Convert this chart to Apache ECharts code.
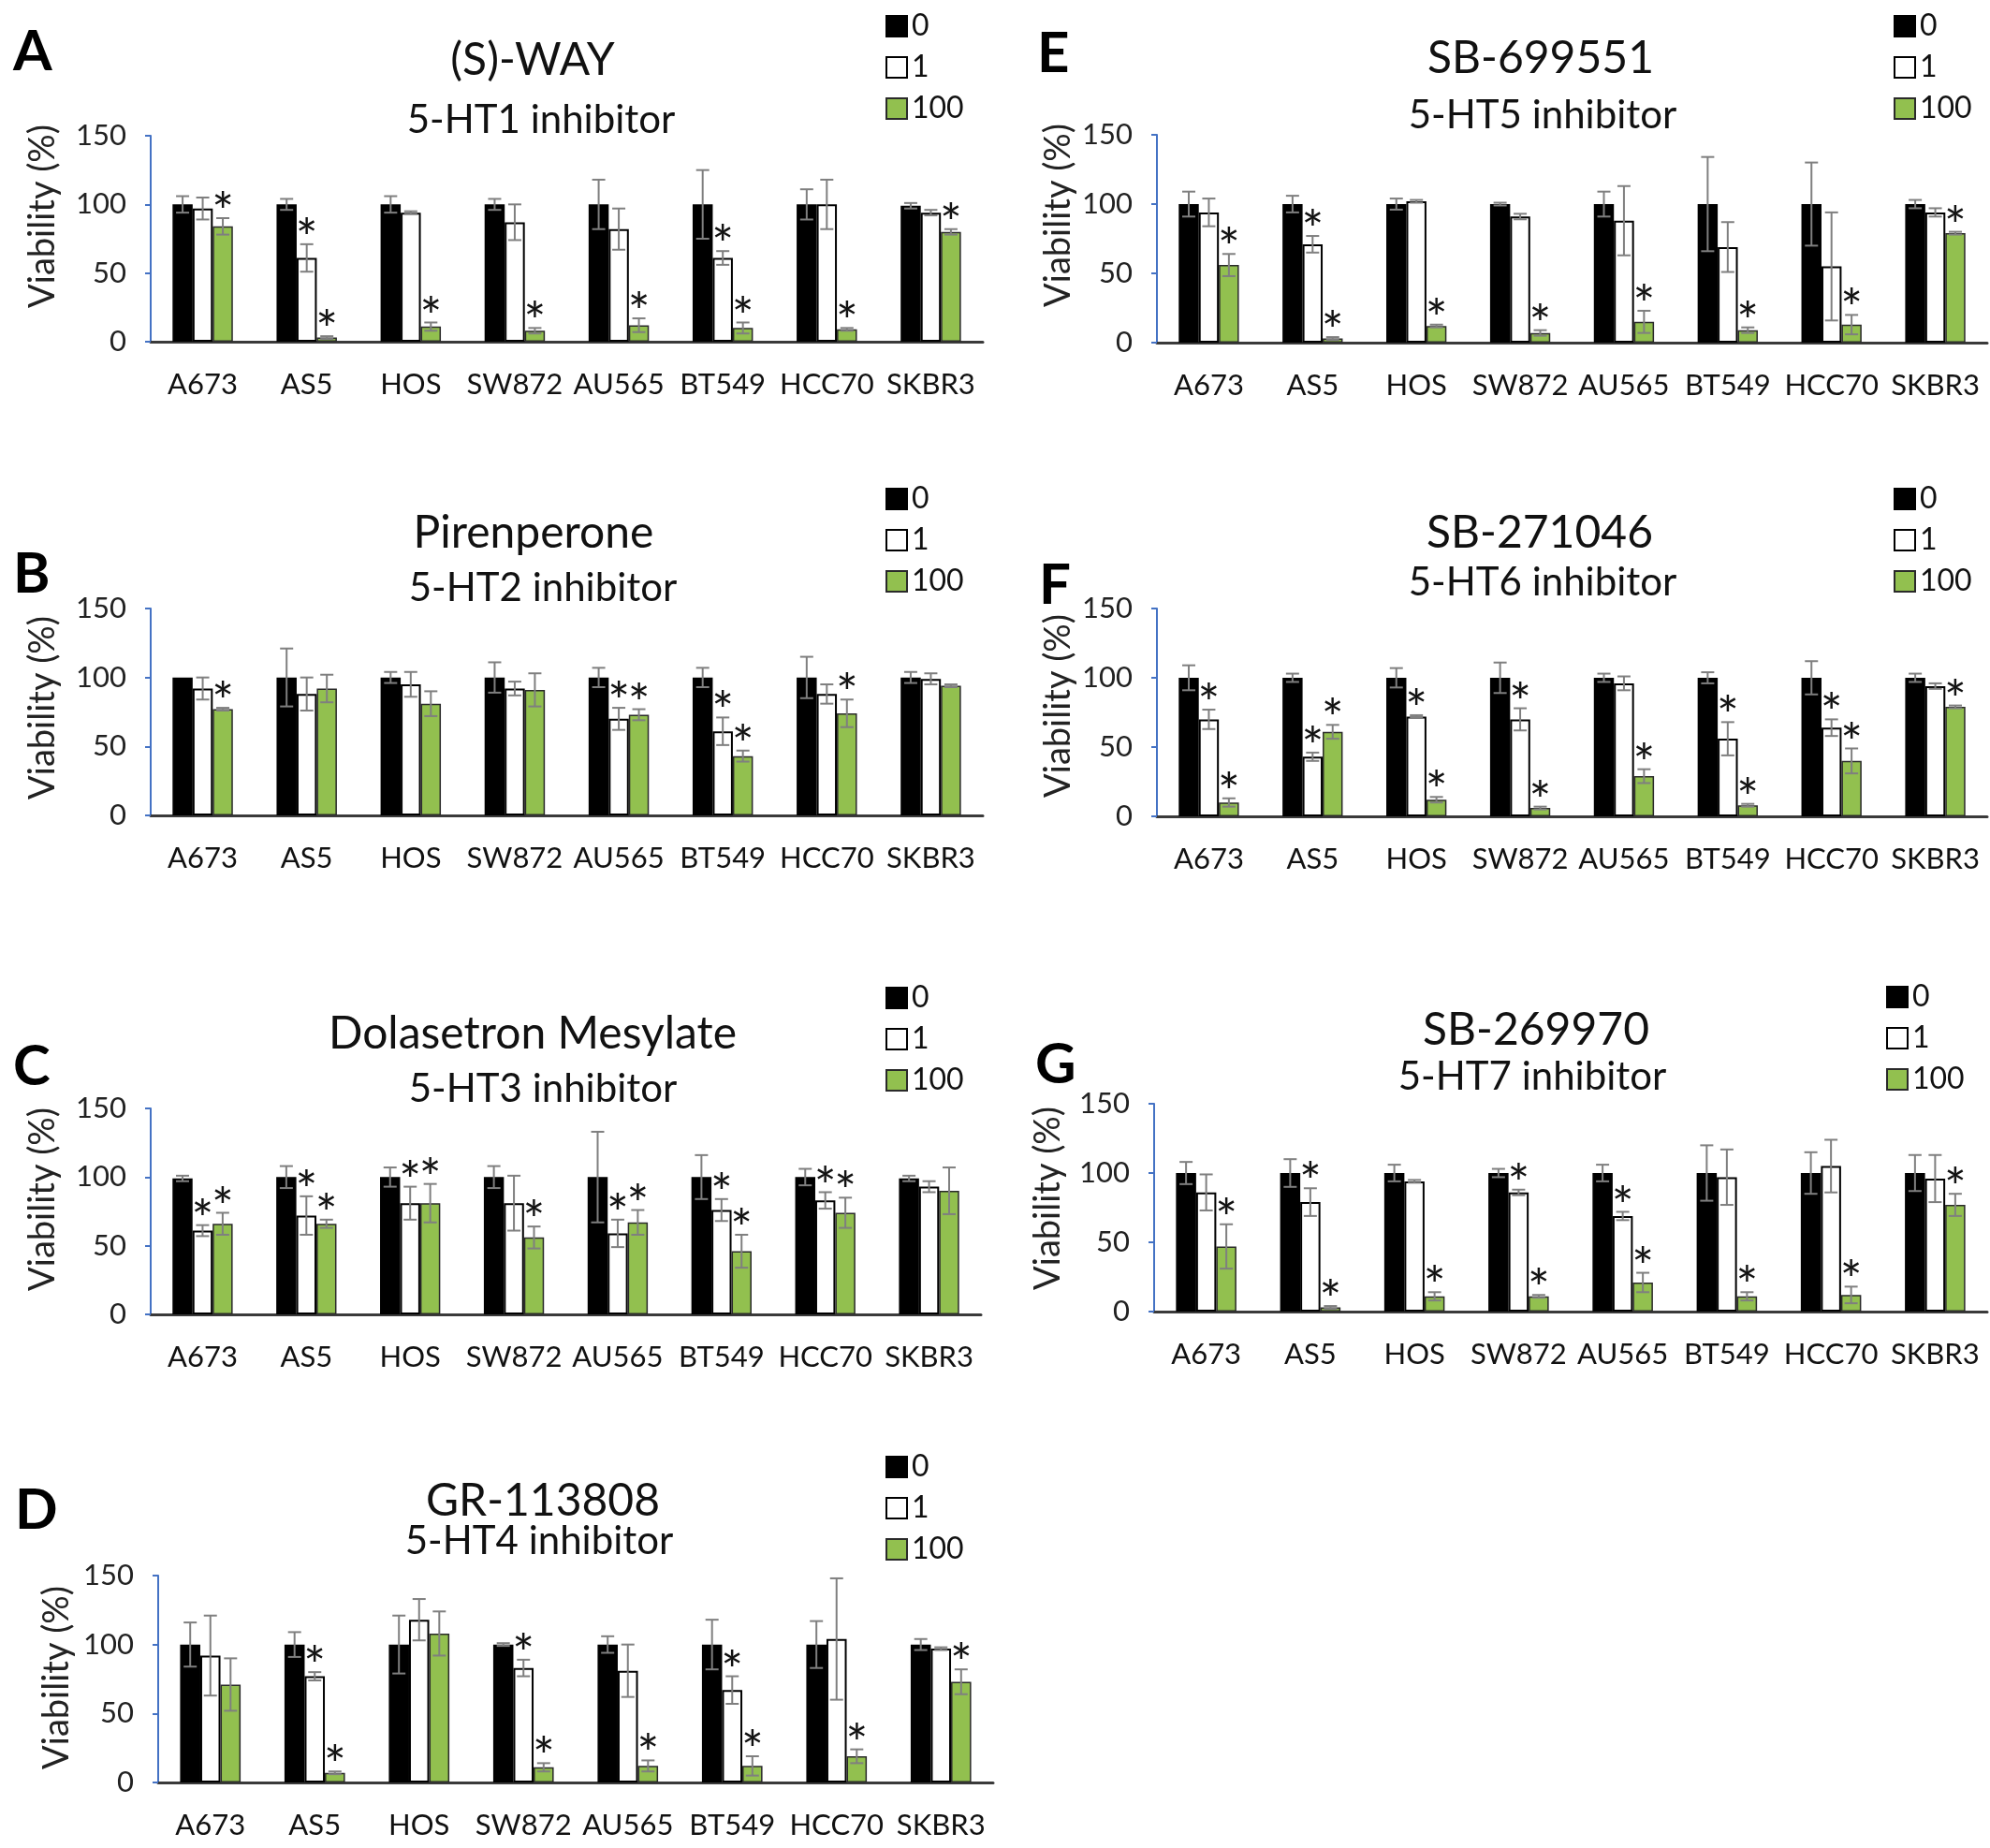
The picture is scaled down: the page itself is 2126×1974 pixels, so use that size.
<!DOCTYPE html>
<html>
<head>
<meta charset="utf-8">
<script src="https://cdn.jsdelivr.net/npm/echarts@6/dist/echarts.min.js"></script>
<style>
html, body { margin: 0; padding: 0; background: #fff; }
#chart { width: 2126px; height: 1974px; }
</style>
</head>
<body>
<div id="chart"></div>
<script>
// categories / legend / ticks
var cellLines = ['A673', 'AS5', 'HOS', 'SW872', 'AU565', 'BT549', 'HCC70', 'SKBR3'];
var doseNames = ['0', '1', '100'];
var yTicks = [0, 50, 100, 150];

// A: (S)-WAY   rows = dose 0, 1, 100
var wayMean = [[100, 100, 100, 100, 100, 100, 100, 99], [97, 61, 94, 87, 82, 61, 100, 94], [84, 3, 11, 8, 12, 10, 9, 80]];
var wayErr  = [[6, 4, 6, 4, 18, 25, 11, 2], [8, 10, 1, 13, 15, 5, 18, 2], [6, 1, 3, 2, 5, 4, 1, 2]];
var wayStar = [[0, 0, 0, 0, 0, 0, 0, 0], [0, 1, 0, 0, 0, 1, 0, 0], [1, 1, 1, 1, 1, 1, 1, 1]];

// B: Pirenperone
var pirMean = [[100, 100, 100, 100, 100, 100, 100, 100], [92, 88, 95, 92, 70, 61, 88, 99], [77, 92, 81, 91, 73, 43, 74, 94]];
var pirErr  = [[0, 21, 4, 11, 7, 7, 15, 4], [8, 12, 9, 5, 8, 10, 7, 4], [1, 10, 9, 12, 4, 4, 10, 1]];
var pirStar = [[0, 0, 0, 0, 0, 0, 0, 0], [0, 0, 0, 0, 1, 1, 0, 0], [1, 0, 0, 0, 1, 1, 1, 0]];

// C: Dolasetron Mesylate
var dolMean = [[99, 100, 100, 100, 100, 100, 100, 99], [61, 72, 81, 81, 59, 76, 83, 93], [66, 66, 81, 56, 67, 46, 74, 90]];
var dolErr  = [[2, 8, 7, 8, 33, 16, 6, 2], [4, 14, 12, 20, 10, 8, 6, 4], [8, 3, 14, 8, 9, 12, 11, 17]];
var dolStar = [[0, 0, 0, 0, 0, 0, 0, 0], [1, 1, 1, 0, 1, 1, 1, 0], [1, 1, 1, 1, 1, 1, 1, 0]];

// D: GR-113808
var grMean = [[100, 100, 100, 100, 100, 100, 100, 100], [92, 77, 118, 83, 81, 67, 104, 97], [71, 7, 108, 11, 12, 12, 19, 73]];
var grErr  = [[16, 9, 21, 1, 6, 18, 17, 4], [29, 3, 15, 6, 19, 10, 44, 1], [19, 1, 16, 3, 4, 7, 5, 9]];
var grStar = [[0, 0, 0, 0, 0, 0, 0, 0], [0, 1, 0, 1, 0, 1, 0, 0], [0, 1, 0, 1, 1, 1, 1, 1]];

// E: SB-699551
var sb699Mean = [[100, 100, 100, 100, 100, 100, 100, 100], [94, 71, 102, 91, 88, 69, 55, 94], [56, 3, 12, 7, 15, 9, 13, 79]];
var sb699Err  = [[9, 6, 4, 1, 9, 34, 30, 3], [10, 6, 1, 2, 25, 18, 39, 3], [8, 1, 1, 2, 8, 2, 7, 1]];
var sb699Star = [[0, 0, 0, 0, 0, 0, 0, 0], [0, 1, 0, 0, 0, 0, 0, 0], [1, 1, 1, 1, 1, 1, 1, 1]];

// F: SB-271046
var sb271Mean = [[100, 100, 100, 100, 100, 100, 100, 100], [70, 43, 72, 70, 96, 56, 64, 94], [10, 61, 12, 6, 29, 8, 40, 79]];
var sb271Err  = [[9, 3, 7, 11, 3, 4, 12, 3], [7, 3, 1, 8, 5, 12, 6, 2], [3, 5, 2, 1, 5, 1, 9, 1]];
var sb271Star = [[0, 0, 0, 0, 0, 0, 0, 0], [1, 1, 1, 1, 0, 1, 1, 0], [1, 1, 1, 1, 1, 1, 1, 1]];

// G: SB-269970
var sb269Mean = [[100, 100, 100, 100, 100, 100, 100, 100], [86, 79, 94, 86, 69, 97, 105, 96], [47, 3, 11, 11, 21, 11, 12, 77]];
var sb269Err  = [[8, 10, 6, 3, 6, 20, 15, 13], [13, 10, 1, 2, 3, 20, 19, 17], [16, 1, 3, 1, 7, 3, 6, 8]];
var sb269Star = [[0, 0, 0, 0, 0, 0, 0, 0], [0, 1, 0, 1, 1, 0, 0, 0], [1, 1, 1, 1, 1, 1, 1, 1]];

var FONT = 'Lato, "Open Sans", sans-serif';
var CAT_GAP = 0.42;
var barColors = ['#000000', '#ffffff', '#92c04f'];
var barBorders = ['#000000', '#000000', '#2a2a2a'];

// layout of each panel (pixels)
var panels = [
    {letter: 'A', title: '(S)-WAY', sub: '5-HT1 inhibitor', mean: wayMean, err: wayErr, star: wayStar,
     grid: [161, 145, 889, 220], letterXY: [14, 56], titleXY: [569, 65], subXY: [578, 128], legendXY: [941, 7], yNameXY: [46, 231]},
    {letter: 'B', title: 'Pirenperone', sub: '5-HT2 inhibitor', mean: pirMean, err: pirErr, star: pirStar,
     grid: [161, 650, 889, 221], letterXY: [14, 614], titleXY: [570, 570], subXY: [580, 628], legendXY: [941, 512], yNameXY: [46, 756]},
    {letter: 'C', title: 'Dolasetron Mesylate', sub: '5-HT3 inhibitor', mean: dolMean, err: dolErr, star: dolStar,
     grid: [161, 1184, 887, 220], letterXY: [14, 1140], titleXY: [569, 1105], subXY: [580, 1163], legendXY: [941, 1045], yNameXY: [46, 1281]},
    {letter: 'D', title: 'GR-113808', sub: '5-HT4 inhibitor', mean: grMean, err: grErr, star: grStar,
     grid: [169, 1683, 892, 221], letterXY: [16, 1614], titleXY: [580, 1604], subXY: [576, 1646], legendXY: [941, 1546], yNameXY: [61, 1792]},
    {letter: 'E', title: 'SB-699551', sub: '5-HT5 inhibitor', mean: sb699Mean, err: sb699Err, star: sb699Star,
     grid: [1236, 144, 887, 222], letterXY: [1108, 58], titleXY: [1646, 63], subXY: [1648, 123], legendXY: [2018, 7], yNameXY: [1131, 230]},
    {letter: 'F', title: 'SB-271046', sub: '5-HT6 inhibitor', mean: sb271Mean, err: sb271Err, star: sb271Star,
     grid: [1236, 650, 887, 222], letterXY: [1110, 626], titleXY: [1645, 570], subXY: [1648, 622], legendXY: [2018, 512], yNameXY: [1131, 754]},
    {letter: 'G', title: 'SB-269970', sub: '5-HT7 inhibitor', mean: sb269Mean, err: sb269Err, star: sb269Star,
     grid: [1233, 1179, 890, 222], letterXY: [1106, 1138], titleXY: [1641, 1101], subXY: [1637, 1150], legendXY: [2010, 1044], yNameXY: [1120, 1280]}
];

function renderErr(params, api) {
    var cat = api.value(0), v = api.value(1), e = api.value(2), s = api.value(3), k = api.value(4);
    var bw = api.size([1, 0])[0] * (1 - CAT_GAP) / 3;
    var cx = api.coord([cat, 0])[0] + (k - 1) * bw;
    var yTop = api.coord([cat, v + e])[1];
    var yBot = api.coord([cat, v - e])[1];
    var ln = {stroke: '#7f7f7f', lineWidth: 2};
    var kids = [];
    if (e > 0) {
        kids.push({type: 'line', shape: {x1: cx, y1: yTop, x2: cx, y2: yBot}, style: ln});
        kids.push({type: 'line', shape: {x1: cx - 7, y1: yTop, x2: cx + 7, y2: yTop}, style: ln});
        kids.push({type: 'line', shape: {x1: cx - 7, y1: yBot, x2: cx + 7, y2: yBot}, style: ln});
    }
    if (s) {
        kids.push({type: 'text', style: {text: '*', x: cx, y: yTop - 5, align: 'center', verticalAlign: 'middle',
            fontSize: 56, fontFamily: FONT, fill: '#111'}});
    }
    return {type: 'group', children: kids};
}

var grids = [], xAxes = [], yAxes = [], series = [], legends = [], texts = [];

panels.forEach(function (p, i) {
    grids.push({left: p.grid[0], top: p.grid[1], width: p.grid[2], height: p.grid[3]});
    xAxes.push({
        type: 'category', gridIndex: i, data: cellLines,
        axisTick: {show: false},
        axisLine: {lineStyle: {color: '#3a3a3a', width: 3}},
        axisLabel: {interval: 0, margin: 30, fontSize: 31, fontFamily: FONT, color: '#111'}
    });
    yAxes.push({
        type: 'value', gridIndex: i, min: yTicks[0], max: yTicks[yTicks.length - 1], interval: 50,
        axisLine: {show: true, lineStyle: {color: '#4472c4', width: 2}},
        axisTick: {show: true, length: 6, lineStyle: {color: '#4472c4', width: 2}},
        axisLabel: {margin: 26, fontSize: 31, fontFamily: FONT, color: '#222'},
        splitLine: {show: false}
    });
    var errData = [];
    for (var k = 0; k < 3; k++) {
        series.push({
            type: 'bar', name: doseNames[k], xAxisIndex: i, yAxisIndex: i,
            data: p.mean[k], barGap: '0%', barCategoryGap: (CAT_GAP * 100) + '%',
            itemStyle: {color: barColors[k], borderColor: barBorders[k], borderWidth: k == 1 ? 2 : 1.5},
            silent: true, z: 2
        });
        for (var j = 0; j < cellLines.length; j++) {
            errData.push([j, p.mean[k][j], p.err[k][j], p.star[k][j], k]);
        }
    }
    series.push({
        type: 'custom', xAxisIndex: i, yAxisIndex: i, renderItem: renderErr,
        data: errData, encode: {x: 0, y: 1}, silent: true, z: 5
    });
    legends.push({
        orient: 'vertical', left: p.legendXY[0], top: p.legendXY[1], data: doseNames,
        icon: 'rect', itemWidth: 22, itemHeight: 22, itemGap: 12, selectedMode: false,
        textStyle: {fontSize: 32, fontFamily: FONT, color: '#111', lineHeight: 28}
    });
    texts.push({type: 'text', x: p.letterXY[0], y: p.letterXY[1],
        style: {text: p.letter, fontSize: 60, fontWeight: 'bold', fontFamily: FONT, fill: '#000', verticalAlign: 'middle'}});
    texts.push({type: 'text', x: p.titleXY[0], y: p.titleXY[1],
        style: {text: p.title, fontSize: 48, fontFamily: FONT, fill: '#111', align: 'center', verticalAlign: 'middle'}});
    texts.push({type: 'text', x: p.subXY[0], y: p.subXY[1],
        style: {text: p.sub, fontSize: 42, fontFamily: FONT, fill: '#111', align: 'center', verticalAlign: 'middle'}});
    texts.push({type: 'text', x: p.yNameXY[0], y: p.yNameXY[1], rotation: Math.PI / 2,
        style: {text: 'Viability (%)', fontSize: 38, fontFamily: FONT, fill: '#222', align: 'center', verticalAlign: 'middle'}});
});

var myChart = echarts.init(document.getElementById('chart'), null, {renderer: 'canvas'});
myChart.setOption({
    backgroundColor: '#ffffff',
    animation: false,
    grid: grids,
    xAxis: xAxes,
    yAxis: yAxes,
    legend: legends,
    graphic: texts,
    series: series
});
</script>
</body>
</html>
